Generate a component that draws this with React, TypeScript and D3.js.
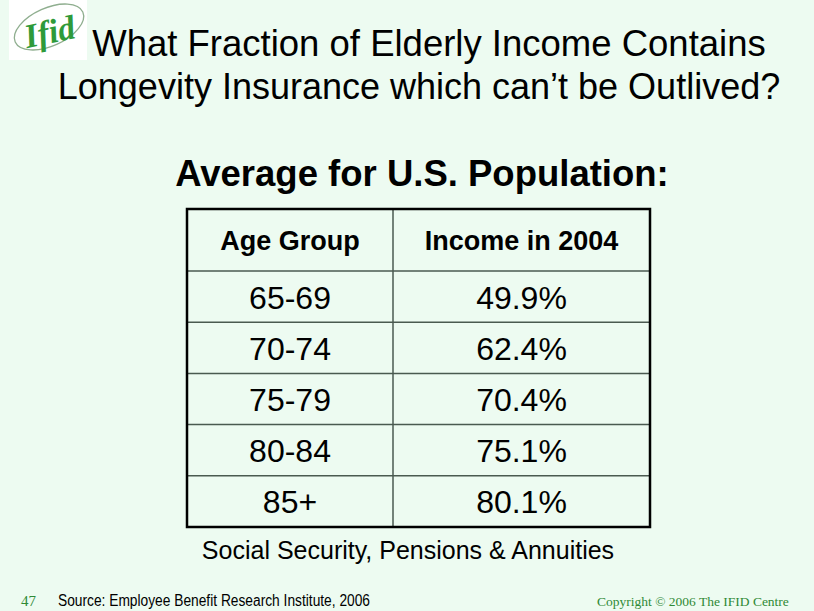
import React from "react";
import * as d3 from "d3";

const titleLines = [
  "What Fraction of Elderly Income Contains",
  "Longevity Insurance which can\u2019t be Outlived?",
];
const subtitle = "Average for U.S. Population:";
const headers = ["Age Group", "Income in 2004"];
const ageGroups = ["65-69", "70-74", "75-79", "80-84", "85+"];
const incomeShares = [49.9, 62.4, 70.4, 75.1, 80.1];
const footnote = "Social Security, Pensions & Annuities";
const source = "Source: Employee Benefit Research Institute, 2006";
const pageNumber = "47";
const copyright = "Copyright \u00a9 2006 The IFID Centre";

const W = 814;
const H = 611;
const SANS = "'Liberation Sans', Arial, Helvetica, sans-serif";
const SERIF = "'Liberation Serif', 'Times New Roman', serif";
const GREEN = "#2f8a35";

export default function App() {
  const tableLeft = 187;
  const tableRight = 650;
  const colSplit = 393;
  const tableTop = 209;
  const headerBottom = 271;
  const tableBottom = 527;

  const y = d3
    .scaleBand<string>()
    .domain(ageGroups)
    .range([headerBottom, tableBottom]);
  const fmt = d3.format(".1f");

  const col1Mid = (tableLeft + colSplit) / 2;
  const col2Mid = (colSplit + tableRight) / 2;

  return (
    <svg
      width={W}
      height={H}
      viewBox={`0 0 ${W} ${H}`}
      style={{ position: "absolute", left: 0, top: 0, display: "block" }}
    >
      <rect x={0} y={0} width={W} height={H} fill="#edfbf1" />

      {/* logo */}
      <g>
        <rect x={9} y={0} width={78} height={60} fill="#ffffff" />
        <ellipse
          cx={49}
          cy={27}
          rx={37}
          ry={19}
          transform="rotate(-24 49 27)"
          fill="none"
          stroke="#8fae8f"
          strokeWidth={1.3}
        />
        <text
          x={24}
          y={44}
          fontFamily={SERIF}
          fontStyle="italic"
          fontWeight="bold"
          fontSize={34}
          fill="#2e9a3a"
          transform="rotate(-12 46 32)"
        >
          Ifid
        </text>
      </g>

      {/* title */}
      <text
        x={429}
        y={56}
        textAnchor="middle"
        fontFamily={SANS}
        fontSize={36.5}
        fill="#000"
      >
        {titleLines[0]}
      </text>
      <text
        x={419}
        y={99}
        textAnchor="middle"
        fontFamily={SANS}
        fontSize={36}
        fill="#000"
      >
        {titleLines[1]}
      </text>

      <text
        x={422}
        y={186}
        textAnchor="middle"
        fontFamily={SANS}
        fontWeight="bold"
        fontSize={36.5}
        fill="#000"
      >
        {subtitle}
      </text>

      {/* table inner lines */}
      <line
        x1={tableLeft}
        x2={tableRight}
        y1={headerBottom}
        y2={headerBottom}
        stroke="#4a5a50"
        strokeWidth={1.5}
      />
      {ageGroups.slice(1).map((g) => (
        <line
          key={g}
          x1={tableLeft}
          x2={tableRight}
          y1={y(g)!}
          y2={y(g)!}
          stroke="#4a5a50"
          strokeWidth={1.5}
        />
      ))}
      <line
        x1={colSplit}
        x2={colSplit}
        y1={tableTop}
        y2={tableBottom}
        stroke="#4a5a50"
        strokeWidth={1.5}
      />
      <rect
        x={tableLeft}
        y={tableTop}
        width={tableRight - tableLeft}
        height={tableBottom - tableTop}
        fill="none"
        stroke="#000"
        strokeWidth={2.5}
      />

      {/* header */}
      {headers.map((h, i) => (
        <text
          key={h}
          x={i === 0 ? col1Mid : col2Mid}
          y={(tableTop + headerBottom) / 2 + 9.5}
          textAnchor="middle"
          fontFamily={SANS}
          fontWeight="bold"
          fontSize={27}
        >
          {h}
        </text>
      ))}

      {ageGroups.map((g, i) => {
        const cy = y(g)! + y.bandwidth() / 2 + 12;
        return (
          <g key={g}>
            <text
              x={col1Mid}
              y={cy}
              textAnchor="middle"
              fontFamily={SANS}
              fontSize={32}
            >
              {g}
            </text>
            <text
              x={col2Mid}
              y={cy}
              textAnchor="middle"
              fontFamily={SANS}
              fontSize={32}
            >
              {fmt(incomeShares[i])}%
            </text>
          </g>
        );
      })}

      <text
        x={408}
        y={559}
        textAnchor="middle"
        fontFamily={SANS}
        fontSize={25}
      >
        {footnote}
      </text>

      {/* footer */}
      <text x={21} y={606} fontFamily={SERIF} fontSize={15} fill={GREEN}>
        {pageNumber}
      </text>
      <text
        x={58}
        y={606}
        fontFamily={SANS}
        fontSize={16}
        fill="#000"
        textLength={312}
        lengthAdjust="spacingAndGlyphs"
      >
        {source}
      </text>
      <text x={597} y={606} fontFamily={SERIF} fontSize={13.5} fill={GREEN}>
        {copyright}
      </text>
    </svg>
  );
}
